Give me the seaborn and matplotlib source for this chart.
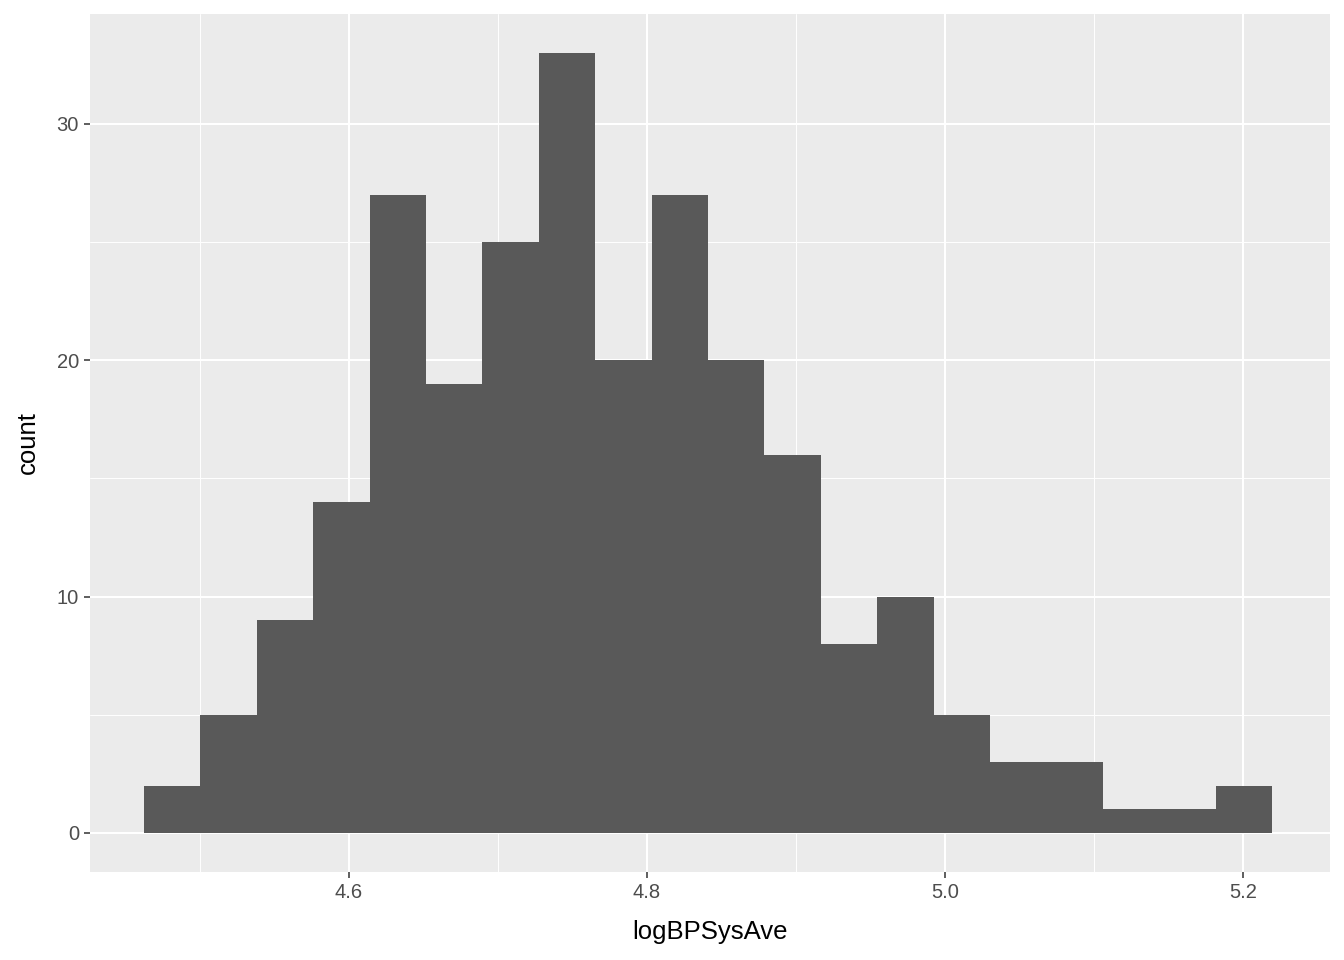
import numpy as np
import pandas as pd
import matplotlib
matplotlib.use("Agg")
import matplotlib.pyplot as plt
import seaborn as sns
from matplotlib.ticker import MultipleLocator

# Histogram data (20 bins)
bin_start = 4.4625
bin_width = 0.03785
counts = [2, 5, 9, 14, 27, 19, 25, 33, 20, 27, 20, 16, 8, 10, 5, 3, 3, 1, 1, 2]
x_ticks = [4.6, 4.8, 5.0, 5.2]
x_tick_labels = ["4.6", "4.8", "5.0", "5.2"]
y_ticks = [0, 10, 20, 30]
x_limits = (4.4262, 5.2584)

edges = bin_start + bin_width * np.arange(len(counts) + 1)
centers = (edges[:-1] + edges[1:]) / 2
df = pd.DataFrame({"logBPSysAve": centers, "n": counts})

sns.set_theme(style="darkgrid")
plt.rcParams['font.family'] = ['Liberation Sans', 'DejaVu Sans']

fig = plt.figure(figsize=(13.44, 9.6), dpi=100)
ax = fig.add_axes([90/1344, 1 - 872/960, (1330-90)/1344, (872-14)/960])
ax.set_facecolor("#EBEBEB")

sns.histplot(data=df, x="logBPSysAve", weights="n", bins=len(counts),
             binrange=(edges[0], edges[-1]), color="#595959",
             alpha=1, edgecolor="none", linewidth=0, ax=ax, zorder=3)

ax.set_xlim(*x_limits)
ymax = max(counts)
ax.set_ylim(-0.05 * ymax, ymax * 1.05)

ax.set_xticks(x_ticks)
ax.set_xticklabels(x_tick_labels)
ax.set_yticks(y_ticks)
ax.xaxis.set_minor_locator(MultipleLocator(0.1))
ax.yaxis.set_minor_locator(MultipleLocator(5))
ax.grid(which="major", color="white", linewidth=1.5, zorder=0)
ax.grid(which="minor", color="white", linewidth=0.7, zorder=0)
ax.set_axisbelow(True)
for s in ax.spines.values():
    s.set_visible(False)

ax.tick_params(axis="both", which="major", length=4, width=1.1, color="#333333",
               labelsize=14.5, labelcolor="#4D4D4D", pad=4, bottom=True, left=True)
ax.tick_params(axis="both", which="minor", length=0)
ax.set_xlabel("logBPSysAve", fontsize=18.5, color="black", labelpad=13)
ax.set_ylabel("count", fontsize=18.5, color="black", labelpad=12)

fig.savefig("out.png", dpi=100)
